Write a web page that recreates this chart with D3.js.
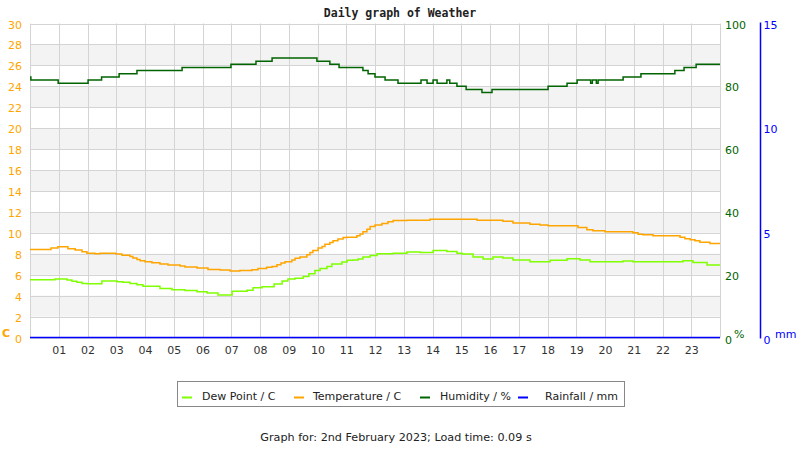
<!DOCTYPE html>
<html>
<head>
<meta charset="utf-8">
<script src="https://cdn.jsdelivr.net/npm/d3@7"></script>
<style>
  html, body { margin: 0; padding: 0; background: #fff; }
  svg { display: block; }
  text { font-family: "DejaVu Sans", sans-serif; }
</style>
</head>
<body>
<svg id="chart" width="800" height="450"></svg>
<script>
// ---------------- DATA ----------------
const chartTitle = "Daily graph of Weather";
const footerText = "Graph for: 2nd February 2023; Load time: 0.09 s";
const hourLabels = ["01","02","03","04","05","06","07","08","09","10","11","12","13","14","15","16","17","18","19","20","21","22","23"];
const tempTicks = [0,2,4,6,8,10,12,14,16,18,20,22,24,26,28,30];
const humidityTicks = [0,20,40,60,80,100];
const rainTicks = [0,5,10,15];
const legendLabels = ["Dew Point / C","Temperature / C","Humidity / %","Rainfall / mm"];

// time (hours) at which each reading begins, and the reading
const tempHours = [0,0.73,0.97,1.32,1.57,1.81,1.98,2.26,2.43,2.99,3.2,3.48,3.58,3.72,3.83,4.0,4.24,4.52,4.8,5.22,5.39,5.81,6.19,6.61,6.96,7.3,7.72,7.93,8.23,8.42,8.59,8.73,8.87,9.11,9.22,9.39,9.63,9.74,9.84,10.02,10.16,10.26,10.43,10.54,10.71,10.89,11.03,11.37,11.48,11.58,11.72,11.83,12.0,12.24,12.45,12.63,13.11,13.91,15.55,16.45,16.8,17.39,17.74,18.02,19.06,19.37,19.58,20.0,20.97,21.15,21.32,21.67,22.61,22.78,22.96,23.13,23.3,23.65,24];
const tempValues = [8.41,8.54,8.67,8.48,8.35,8.19,8.06,8.0,8.06,7.97,7.87,7.75,7.59,7.46,7.33,7.24,7.14,7.02,6.92,6.83,6.73,6.63,6.5,6.44,6.35,6.41,6.48,6.6,6.7,6.79,6.95,7.11,7.24,7.4,7.56,7.68,7.9,8.13,8.32,8.54,8.7,8.92,9.08,9.24,9.4,9.56,9.59,9.71,9.9,10.1,10.35,10.6,10.76,10.89,11.05,11.17,11.2,11.3,11.2,11.1,10.95,10.83,10.76,10.67,10.51,10.29,10.19,10.1,10.0,9.87,9.81,9.71,9.59,9.43,9.33,9.24,9.11,8.98,8.98];

const dewHours = [0,0.87,1.29,1.46,1.63,1.81,1.98,2.5,3.03,3.23,3.48,3.72,3.93,4.52,4.94,5.39,5.81,6.16,6.54,7.03,7.55,7.76,8.07,8.49,8.77,8.97,9.22,9.5,9.7,9.91,10.09,10.33,10.5,10.85,11.03,11.23,11.41,11.58,11.83,12.07,12.63,13.11,13.57,14.02,14.5,14.85,15.03,15.41,15.76,16.1,16.45,16.8,17.39,18.09,18.68,19.13,19.48,20.63,20.97,22.71,23.06,23.55,24];
const dewValues = [5.52,5.59,5.5,5.37,5.27,5.17,5.14,5.4,5.33,5.27,5.17,5.05,4.89,4.67,4.57,4.48,4.38,4.25,4.06,4.41,4.51,4.76,4.86,5.1,5.4,5.59,5.65,5.84,6.1,6.41,6.6,6.79,7.02,7.21,7.37,7.4,7.49,7.68,7.84,8.0,8.06,8.16,8.13,8.32,8.22,8.06,7.97,7.68,7.49,7.68,7.59,7.4,7.24,7.37,7.52,7.4,7.24,7.3,7.24,7.33,7.17,6.92,6.92];

const humidityHours = [0,0.03,0.98,2.02,2.49,3.10,3.72,5.29,6.99,7.86,8.42,9.98,10.43,10.75,11.58,11.76,12.0,12.35,12.8,13.6,13.81,14.02,14.16,14.5,14.6,14.85,15.17,15.72,16.07,18.02,18.68,19.03,19.5,19.56,19.7,19.76,20.63,21.25,22.43,22.75,23.17,24];
const humidityValues = [83,82,81,82,83,84,85,86,87,88,89,88,87,86,85,84,83,82,81,82,81,82,81,82,81,80,79,78,79,80,81,82,81,82,81,82,83,84,85,86,87,87];

const rainHours = [0,24];
const rainValues = [0,0];

// ---------------- LAYOUT ----------------
const svg = d3.select("#chart");
const L = 30, R = 720, T = 23.5, B = 337.5;
const x = d3.scaleLinear().domain([0,24]).range([L,R]);
const yT = d3.scaleLinear().domain([0,30]).range([B,T]);
const yH = d3.scaleLinear().domain([0,100]).range([B,T]);
const yR = d3.scaleLinear().domain([0,15]).range([B,T]);

const colTemp = "#ffa500", colDew = "#7fff00", colHum = "#006400", colRain = "#0000ff";
const gridCol = "#d4d4d4", bandCol = "#f3f3f3";

// background bands
const bands = tempTicks.filter(t => t % 4 === 2 && t < 30);
svg.append("g").selectAll("rect").data(bands).join("rect")
  .attr("x", L).attr("width", R - L)
  .attr("y", d => yT(d + 2)).attr("height", d => yT(d) - yT(d + 2))
  .attr("fill", bandCol);

// horizontal grid
svg.append("g").selectAll("line").data(tempTicks).join("line")
  .attr("x1", L).attr("x2", R)
  .attr("y1", d => Math.round(yT(d)) + 0.5).attr("y2", d => Math.round(yT(d)) + 0.5)
  .attr("stroke", gridCol).attr("stroke-width", 1);

// vertical grid + borders
const hourTicks = d3.range(0, 25);
svg.append("g").selectAll("line").data(hourTicks).join("line")
  .attr("x1", d => Math.round(x(d)) + 0.5).attr("x2", d => Math.round(x(d)) + 0.5)
  .attr("y1", T).attr("y2", B)
  .attr("stroke", gridCol).attr("stroke-width", 1);

// left axis labels
const axL = d3.axisLeft(yT).tickValues(tempTicks).tickSize(0).tickPadding(0).tickFormat(d3.format("d"));
const gL = svg.append("g").attr("transform", "translate(22,1)").call(axL);
gL.select(".domain").remove();
gL.selectAll("text").attr("fill", colTemp).style("font-size", "11px").style("font-family", "DejaVu Sans");
svg.append("text").attr("x", 2).attr("y", 337).text("C")
  .attr("fill", colTemp).style("font-size", "11px").style("font-weight", "bold");

// right humidity axis labels
const axH = d3.axisRight(yH).tickValues(humidityTicks).tickSize(0).tickPadding(0).tickFormat(d3.format("d"));
const gH = svg.append("g").attr("transform", "translate(725,1)").call(axH);
gH.select(".domain").remove();
gH.selectAll("text").attr("fill", colHum).style("font-size", "11px").style("font-family", "DejaVu Sans");
gH.selectAll(".tick").filter(d => d === 0).attr("transform", `translate(0,${B + 2})`);
svg.append("text").attr("x", 734).attr("y", 338).text("%")
  .attr("fill", colHum).style("font-size", "11px");

// rainfall axis
const axR = d3.axisRight(yR).tickValues(rainTicks).tickSize(0).tickPadding(3).tickFormat(d3.format("d"));
const gR = svg.append("g").attr("transform", "translate(760.5,0)").call(axR);
gR.select(".domain").attr("stroke", colRain).attr("stroke-width", 1.5).attr("d", `M0,${T - 1}V${B + 1}`);
gR.selectAll("text").attr("fill", colRain).style("font-size", "11px").style("font-family", "DejaVu Sans").attr("dy", "0.42em");
gR.selectAll(".tick").filter(d => d === 0).attr("transform", `translate(0,${B + 2})`);
svg.append("text").attr("x", 775).attr("y", 338).text("mm")
  .attr("fill", colRain).style("font-size", "11px");

// x axis labels
const axX = d3.axisBottom(x).tickValues(d3.range(1, 24)).tickSize(0).tickPadding(0)
  .tickFormat((d, i) => hourLabels[i]);
const gX = svg.append("g").attr("transform", `translate(0,${B + 9})`).call(axX);
gX.select(".domain").remove();
gX.selectAll("text").attr("fill", "#333").style("font-size", "11px").style("font-family", "DejaVu Sans");

// series lines
const stepLine = (hours, vals, ys) => d3.line()
  .x((d, i) => x(hours[i])).y((d, i) => ys(vals[i]))
  .curve(d3.curveStepAfter)(vals);

function drawSeries(hours, vals, ys, col, w) {
  svg.append("path").attr("d", stepLine(hours, vals, ys))
    .attr("fill", "none").attr("stroke", col).attr("stroke-width", w);
}
drawSeries(humidityHours, humidityValues, yH, colHum, 1.5);
drawSeries(tempHours, tempValues, yT, colTemp, 1.5);
drawSeries(dewHours, dewValues, yT, colDew, 1.5);
drawSeries(rainHours, rainValues, yR, colRain, 1.5);

// title
svg.append("text").attr("x", 400).attr("y", 17).attr("text-anchor", "middle")
  .text(chartTitle)
  .style("font-family", "DejaVu Sans Mono").style("font-size", "11.5px").style("font-weight", "bold")
  .attr("fill", "#222");

// legend
const legendColors = [colDew, colTemp, colHum, colRain];
const swatchX = [182, 294, 420, 518];
const textX = [202, 313, 440, 545];
svg.append("rect").attr("x", 177.5).attr("y", 381.5).attr("width", 447).attr("height", 25)
  .attr("fill", "#fff").attr("stroke", "#888").attr("stroke-width", 1);
const lg = svg.append("g");
lg.selectAll("line").data(legendLabels).join("line")
  .attr("x1", (d, i) => swatchX[i]).attr("x2", (d, i) => swatchX[i] + 10)
  .attr("y1", 397.5).attr("y2", 397.5)
  .attr("stroke", (d, i) => legendColors[i]).attr("stroke-width", 2);
lg.selectAll("text").data(legendLabels).join("text")
  .attr("x", (d, i) => textX[i]).attr("y", 400)
  .text(d => d).attr("fill", "#222").style("font-size", "11px");

// footer
svg.append("text").attr("x", 396).attr("y", 441).attr("text-anchor", "middle")
  .text(footerText).attr("fill", "#222").style("font-size", "11.2px");
</script>
</body>
</html>
